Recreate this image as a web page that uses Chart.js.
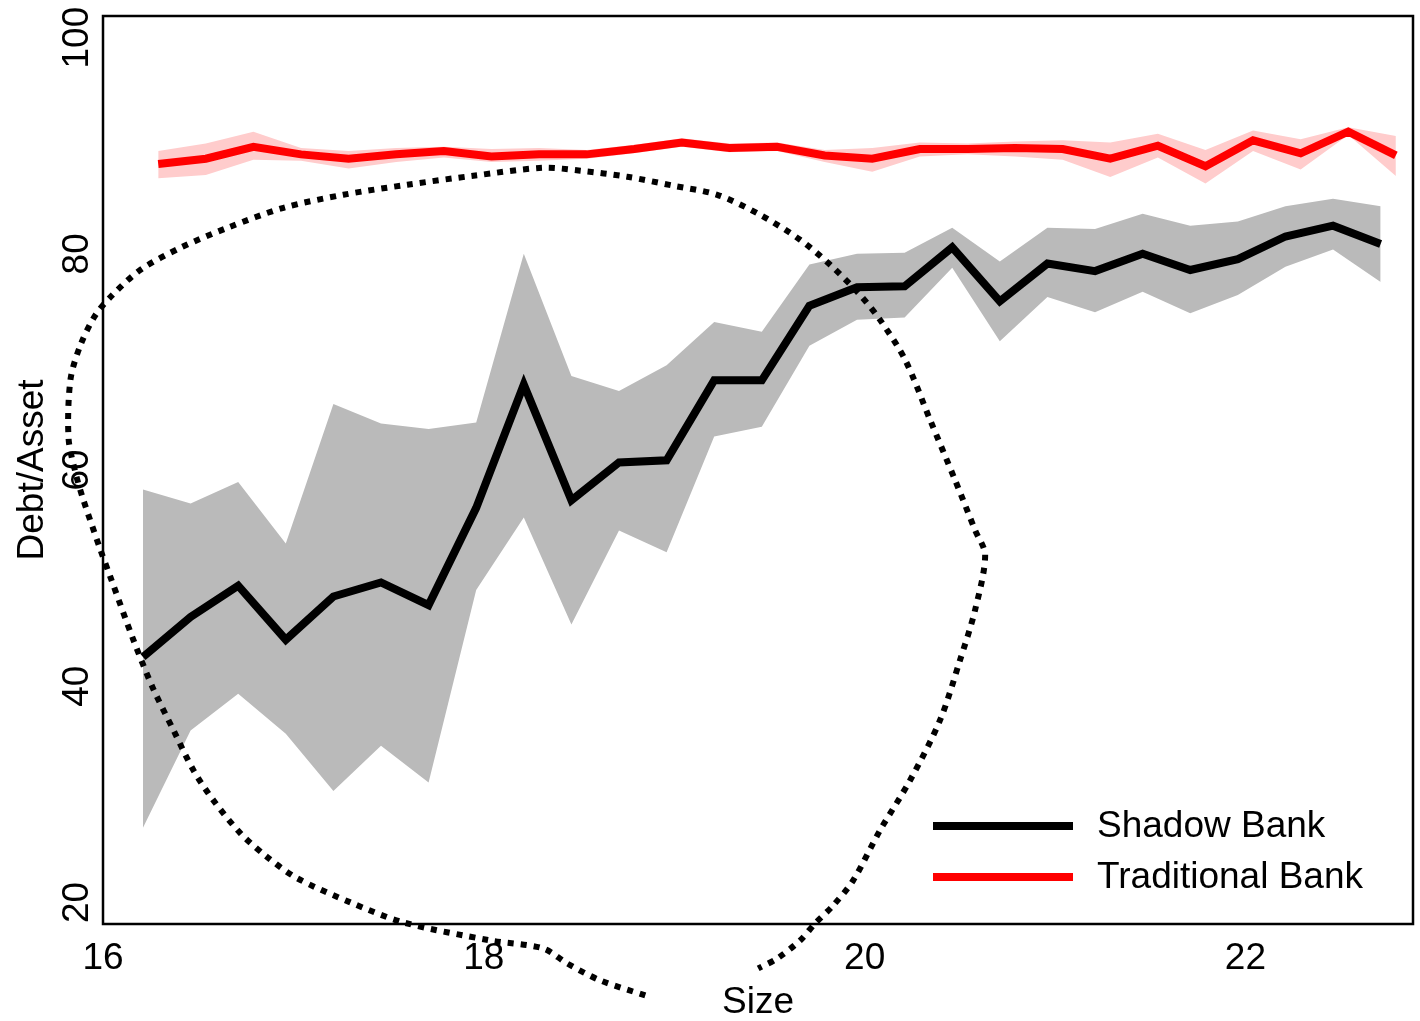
<!DOCTYPE html>
<html>
<head>
<meta charset="utf-8">
<script src="https://cdn.jsdelivr.net/npm/chart.js@4.4.1/dist/chart.umd.min.js"></script>
<style>
  body { margin: 0; background: #fff; }
  #wrap { width: 1420px; height: 1021px; }
</style>
</head>
<body>
<div id="wrap"><canvas id="grafico" width="1420" height="1021"></canvas></div>
<script>
// Datos
const xTicks = [16, 18, 20, 22];
const yTicks = [20, 40, 60, 80, 100];

// Shadow Bank (linea negra + banda gris)
const shadowX = [16.21, 16.46, 16.71, 16.96, 17.21, 17.46, 17.71, 17.96, 18.21, 18.46, 18.71, 18.96, 19.21, 19.46,
                 19.71, 19.96, 20.21, 20.46, 20.71, 20.96, 21.21, 21.46, 21.71, 21.96, 22.21, 22.46, 22.71];
const shadowY = [42.7, 46.4, 49.3, 44.3, 48.3, 49.6, 47.5, 56.5, 67.9, 57.2, 60.7, 60.9, 68.3, 68.3,
                 75.2, 76.9, 77.0, 80.6, 75.6, 79.1, 78.4, 80.0, 78.5, 79.5, 81.6, 82.6, 80.9];
const shadowHi = [58.2, 56.9, 58.9, 53.2, 66.1, 64.3, 63.8, 64.4, 80.0, 68.7, 67.3, 69.7, 73.7, 72.8,
                  79.0, 80.0, 80.1, 82.4, 79.3, 82.4, 82.3, 83.7, 82.6, 83.0, 84.4, 85.1, 84.4];
const shadowLo = [26.9, 35.9, 39.3, 35.6, 30.3, 34.5, 31.1, 48.9, 55.6, 45.7, 54.4, 52.4, 63.1, 64.0,
                  71.5, 73.9, 74.1, 78.7, 71.9, 76.0, 74.6, 76.5, 74.5, 76.2, 78.8, 80.4, 77.4];

// Traditional Bank (linea roja + banda rosa)
const tradX = [16.29, 16.54, 16.79, 17.04, 17.29, 17.54, 17.79, 18.04, 18.29, 18.54, 18.79, 19.04, 19.29, 19.54,
               19.79, 20.04, 20.29, 20.54, 20.79, 21.04, 21.29, 21.54, 21.79, 22.04, 22.29, 22.54, 22.79];
const tradY = [88.3, 88.8, 89.9, 89.2, 88.8, 89.2, 89.5, 89.0, 89.2, 89.2, 89.7, 90.3, 89.8, 89.9,
               89.1, 88.8, 89.7, 89.7, 89.8, 89.7, 88.8, 90.0, 88.1, 90.5, 89.3, 91.3, 89.1];
const tradHi = [89.5, 90.2, 91.3, 89.8, 89.5, 89.8, 89.9, 89.7, 89.8, 89.6, 90.1, 90.7, 90.2, 90.3,
                89.6, 89.8, 90.3, 90.2, 90.4, 90.5, 90.3, 91.1, 89.6, 91.4, 90.6, 91.7, 90.9];
const tradLo = [87.0, 87.3, 88.7, 88.6, 87.9, 88.5, 88.9, 88.5, 88.6, 88.8, 89.3, 89.9, 89.4, 89.5,
                88.5, 87.6, 89.0, 89.2, 89.0, 88.7, 87.1, 88.9, 86.5, 89.5, 87.8, 91.0, 87.2];

// Curva punteada dibujada a mano encima del grafico
const curvaX = [18.848, 18.612, 18.438, 18.312, 18.034, 17.577, 17.299, 17.021, 16.864, 16.722, 16.580, 16.475,
                16.370, 16.260, 16.160, 16.039, 15.987, 15.892, 15.856, 15.819, 15.829, 15.882, 15.961, 16.050,
                16.197, 16.407, 16.654, 16.948, 17.262, 17.598, 17.945, 18.312, 18.507, 18.753, 18.995, 19.226,
                19.451, 19.661, 19.819, 19.976, 20.081, 20.213, 20.344, 20.475, 20.580, 20.633, 20.580, 20.501,
                20.396, 20.239, 20.081, 19.940, 19.835, 19.740, 19.661, 19.541, 19.441];
const curvaY = [11.39, 12.78, 14.35, 15.74, 16.48, 18.15, 20.00, 22.22, 24.17, 26.39, 29.44, 32.22,
                35.93, 39.91, 44.26, 50.09, 52.59, 57.50, 59.72, 62.96, 68.33, 71.57, 74.35, 76.20,
                78.52, 80.56, 82.41, 84.26, 85.46, 86.39, 87.22, 87.96, 87.69, 87.13, 86.30, 85.46,
                83.61, 81.30, 78.98, 76.20, 73.89, 70.19, 64.63, 59.07, 54.44, 52.13, 47.04, 42.41,
                36.85, 31.30, 26.67, 22.04, 19.72, 18.06, 16.48, 14.81, 13.89];

const puntos = (xs, ys) => xs.map((x, i) => ({ x: x, y: ys[i] }));
const fuente = 'Liberation Sans, Arial, sans-serif';

// marco, etiquetas del eje y y leyenda
const extras = {
    id: 'extras',
    afterDraw(chart) {
        const ctx = chart.ctx;
        const a = chart.chartArea;
        const ys = chart.scales.y;
        ctx.save();
        ctx.strokeStyle = '#000';
        ctx.lineWidth = 2.5;
        ctx.strokeRect(a.left, a.top, a.right - a.left, a.bottom - a.top);

        ctx.fillStyle = '#000';
        ctx.font = '37px ' + fuente;
        ctx.textAlign = 'center';
        ctx.textBaseline = 'alphabetic';
        yTicks.forEach(v => {
            ctx.save();
            ctx.translate(a.left - 15, ys.getPixelForValue(v));
            ctx.rotate(-Math.PI / 2);
            ctx.fillText(String(v), 0, 0);
            ctx.restore();
        });

        // leyenda
        const items = [
            { label: 'Shadow Bank', color: '#000000', y: 826 },
            { label: 'Traditional Bank', color: '#ff0000', y: 877 }
        ];
        ctx.textAlign = 'left';
        ctx.textBaseline = 'middle';
        items.forEach(it => {
            ctx.strokeStyle = it.color;
            ctx.lineWidth = 8;
            ctx.beginPath();
            ctx.moveTo(933, it.y);
            ctx.lineTo(1073, it.y);
            ctx.stroke();
            ctx.fillStyle = '#000';
            ctx.fillText(it.label, 1097, it.y + 1);
        });
        ctx.restore();
    }
};

const ctx = document.getElementById('grafico').getContext('2d');

const chart = new Chart(ctx, {
    type: 'line',
    data: {
        datasets: [
            {   // curva punteada
                label: 'curva',
                data: puntos(curvaX, curvaY),
                borderColor: '#000',
                borderWidth: 6,
                borderDash: [6, 7],
                pointRadius: 0,
                tension: 0.3,
                fill: false,
                clip: false,
                order: 0
            },
            {
                label: 'Traditional Bank',
                data: puntos(tradX, tradY),
                borderColor: '#ff0000',
                borderWidth: 8,
                pointRadius: 0,
                tension: 0,
                fill: false,
                order: 1
            },
            {
                label: 'trad alto',
                data: puntos(tradX, tradHi),
                borderWidth: 0,
                pointRadius: 0,
                tension: 0,
                backgroundColor: '#ffcccc',
                fill: '+1',
                order: 2
            },
            {
                label: 'trad bajo',
                data: puntos(tradX, tradLo),
                borderWidth: 0,
                pointRadius: 0,
                tension: 0,
                fill: false,
                order: 2
            },
            {
                label: 'Shadow Bank',
                data: puntos(shadowX, shadowY),
                borderColor: '#000000',
                borderWidth: 8,
                pointRadius: 0,
                tension: 0,
                fill: false,
                order: 3
            },
            {
                label: 'shadow alto',
                data: puntos(shadowX, shadowHi),
                borderWidth: 0,
                pointRadius: 0,
                tension: 0,
                backgroundColor: '#bababa',
                fill: '+1',
                order: 4
            },
            {
                label: 'shadow bajo',
                data: puntos(shadowX, shadowLo),
                borderWidth: 0,
                pointRadius: 0,
                tension: 0,
                fill: false,
                order: 4
            }
        ]
    },
    options: {
        responsive: false,
        animation: false,
        layout: { padding: { top: 16, right: 7, left: 0, bottom: 0 } },
        plugins: {
            legend: { display: false },
            tooltip: { enabled: false }
        },
        scales: {
            x: {
                type: 'linear',
                min: 16,
                max: 22.88,
                grid: { display: false },
                border: { display: false },
                afterBuildTicks: s => { s.ticks = xTicks.map(v => ({ value: v })); },
                afterFit: s => { s.height = 97; },
                ticks: {
                    color: '#000',
                    padding: 5,
                    maxRotation: 0,
                    font: { family: fuente, size: 37 }
                },
                title: {
                    display: true,
                    text: 'Size',
                    color: '#000',
                    padding: 0,
                    font: { family: fuente, size: 37, lineHeight: 1 }
                }
            },
            y: {
                type: 'linear',
                min: 18,
                max: 102,
                grid: { display: false },
                border: { display: false },
                afterBuildTicks: s => { s.ticks = yTicks.map(v => ({ value: v })); },
                afterFit: s => { s.width = 103; },
                ticks: { display: false },
                title: {
                    display: true,
                    text: 'Debt/Asset',
                    color: '#000',
                    padding: { top: 14, bottom: 0 },
                    font: { family: fuente, size: 37, lineHeight: 1 }
                }
            }
        }
    },
    plugins: [extras]
});
</script>
</body>
</html>
